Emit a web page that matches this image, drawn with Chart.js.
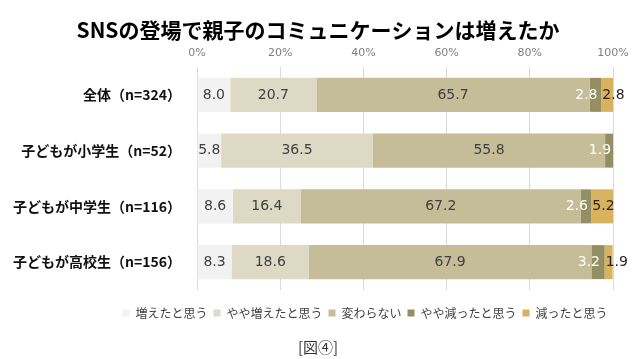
<!DOCTYPE html>
<html>
<head>
<meta charset="utf-8">
<script src="https://cdn.jsdelivr.net/npm/chart.js@4/dist/chart.umd.min.js"></script>
<style>
html,body{margin:0;padding:0;background:#fff;}
#wrap{width:640px;height:359px;position:relative;}
</style>
</head>
<body>
<div id="wrap"><canvas id="c" width="640" height="359"></canvas></div>
<script>
const titleText = 'SNSの登場で親子のコミュニケーションは増えたか';
const figureNote = '[図④]';
const categories = ['全体（n=324）', '子どもが小学生（n=52）', '子どもが中学生（n=116）', '子どもが高校生（n=156）'];
const seriesNames = ['増えたと思う', 'やや増えたと思う', '変わらない', 'やや減ったと思う', '減ったと思う'];
const increased = [8.0, 5.8, 8.6, 8.3];
const slightlyIncreased = [20.7, 36.5, 16.4, 18.6];
const unchanged = [65.7, 55.8, 67.2, 67.9];
const slightlyDecreased = [2.8, 1.9, 2.6, 3.2];
const decreased = [2.8, 0, 5.2, 1.9];
const xTicks = [0, 20, 40, 60, 80, 100];
const colors = ['#f2f2f2', '#ddd9c4', '#c4bd97', '#948f62', '#d9b25e'];

const seriesValues = [increased, slightlyIncreased, unchanged, slightlyDecreased, decreased];

const CJK = '"Noto Sans CJK JP", "Noto Sans", sans-serif';

const labelPlugin = {
  id: 'segLabels',
  afterDatasetsDraw(chart) {
    const ctx = chart.ctx;
    ctx.save();
    ctx.font = '14px "DejaVu Sans", sans-serif';
    ctx.textBaseline = 'middle';
    chart.data.datasets.forEach((ds, di) => {
      const meta = chart.getDatasetMeta(di);
      meta.data.forEach((el, i) => {
        const v = ds.data[i];
        if (!v) return;
        const left = Math.min(el.x, el.base), right = Math.max(el.x, el.base);
        const txt = v.toFixed(1);
        const y = el.y;
        if (di <= 2) {
          ctx.fillStyle = '#404040';
          ctx.textAlign = 'center';
          ctx.fillText(txt, (left + right) / 2, y);
        } else if (di === 3) {
          ctx.fillStyle = '#ffffff';
          ctx.textAlign = 'right';
          ctx.fillText(txt, (left + right) / 2 + 2, y);
        } else {
          ctx.fillStyle = '#262626';
          ctx.textAlign = 'left';
          ctx.fillText(txt, left + 1, y);
        }
      });
    });
    ctx.restore();
  }
};

const boxShift = {
  id: 'boxShift',
  afterLayout(chart) {
    const lg = chart.legend;
    if (lg) {
      lg.left += 56;
      lg.right += 56;
      lg.top += 11;
      lg.bottom += 11;
    }
    chart.boxes.forEach(b => {
      if (b.options && (b.options.text === titleText || b.options.text === figureNote)) {
        b.left += 9;
        b.right += 9;
      }
    });
  }
};

new Chart(document.getElementById('c'), {
  type: 'bar',
  data: {
    labels: categories,
    datasets: seriesValues.map((vals, k) => ({
      label: seriesNames[k],
      data: vals,
      backgroundColor: colors[k],
      borderWidth: 0,
      barPercentage: 0.61,
      categoryPercentage: 1.0
    }))
  },
  options: {
    indexAxis: 'y',
    responsive: false,
    animation: false,
    layout: { padding: { left: 5, right: 27, top: 0, bottom: 0 } },
    scales: {
      x: {
        position: 'top',
        stacked: true,
        min: 0,
        max: 100,
        afterBuildTicks(axis) { axis.ticks = xTicks.map(v => ({ value: v })); },
        afterFit(axis) { axis.height = 24.8; },
        ticks: {
          callback: v => v + '%',
          color: '#7f7f7f',
          font: { family: '"DejaVu Sans", sans-serif', size: 11 },
          padding: 7,
          maxRotation: 0
        },
        grid: { color: '#d9d9d9', drawTicks: false, lineWidth: 1 },
        border: { display: false }
      },
      y: {
        stacked: true,
        afterFit(axis) { axis.width = 192; },
        ticks: {
          color: '#111111',
          font: { family: CJK, size: 14, weight: 'bold' },
          padding: 16
        },
        grid: { display: false, drawTicks: false },
        border: { display: false }
      }
    },
    plugins: {
      title: {
        display: true,
        text: titleText,
        color: '#000000',
        font: { family: CJK, size: 21, weight: 'bold' },
        padding: { top: 17, bottom: 0 }
      },
      subtitle: {
        display: true,
        text: figureNote,
        position: 'bottom',
        color: '#333333',
        font: { family: CJK, size: 15, weight: 'normal' },
        padding: { top: 20, bottom: 3 }
      },
      legend: {
        display: true,
        position: 'bottom',
        align: 'center',
        labels: {
          boxWidth: 7,
          boxHeight: 7,
          padding: 6,
          color: '#404040',
          font: { family: CJK, size: 12 }
        }
      },
      tooltip: { enabled: false }
    }
  },
  plugins: [labelPlugin, boxShift]
});
</script>
</body>
</html>
